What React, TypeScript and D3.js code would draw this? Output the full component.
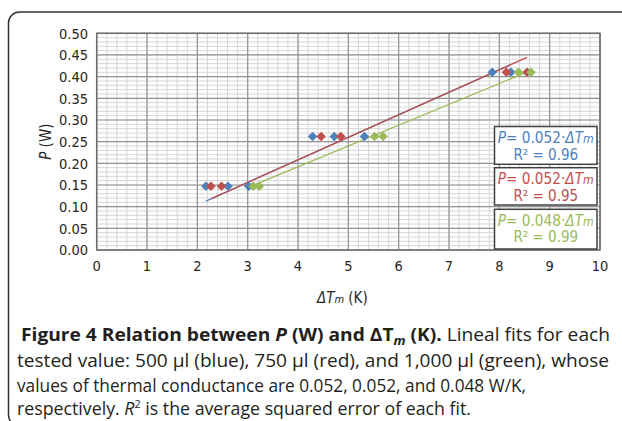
import React from "react";
import * as d3 from "d3";

const xTicks = [0, 1, 2, 3, 4, 5, 6, 7, 8, 9, 10];
const yTicks = [0, 0.05, 0.1, 0.15, 0.2, 0.25, 0.3, 0.35, 0.4, 0.45, 0.5];

const blueX = [2.17, 2.61, 3.02, 4.29, 4.72, 5.32, 7.86, 8.23];
const blueY = [0.147, 0.147, 0.147, 0.262, 0.262, 0.262, 0.41, 0.41];
const redX = [2.27, 2.48, 4.46, 4.85, 8.14, 8.55];
const redY = [0.147, 0.147, 0.262, 0.262, 0.41, 0.41];
const greenX = [3.11, 3.23, 5.52, 5.69, 8.38, 8.63];
const greenY = [0.147, 0.147, 0.262, 0.262, 0.41, 0.41];

const slopes = [0.052, 0.052, 0.048];
const r2 = ["0.96", "0.95", "0.99"];
const colors = ["#4F81BD", "#C0504D", "#9BBB59"];

const chartFont = "'DejaVu Sans Condensed', 'DejaVu Sans', sans-serif";
const capFont = "'Open Sans', 'Noto Sans', sans-serif";

export default function App() {
  const x = d3.scaleLinear().domain([0, 10]).range([96.7, 600]);
  const y = d3.scaleLinear().domain([0, 0.5]).range([250, 33.3]);

  const xMinor = d3.range(0, 10.001, 0.2);
  const yMinor = d3.range(0, 0.5001, 0.01);

  const series = [
    { xs: blueX, ys: blueY },
    { xs: redX, ys: redY },
    { xs: greenX, ys: greenY },
  ];

  const diamond = (cx: number, cy: number, r: number) =>
    `M${cx},${cy - r}L${cx + r},${cy}L${cx},${cy + r}L${cx - r},${cy}Z`;

  const line = d3
    .line<[number, number]>()
    .x((d) => x(d[0]))
    .y((d) => y(d[1]));

  const boxTops = [126.5, 167.7, 209.3];
  const boxH = [37.8, 37.3, 39.7];
  const boxL = 494.5;
  const boxR = 597;

  return (
    <svg
      width={622}
      height={421}
      style={{ position: "absolute", left: 0, top: 0, background: "#fff" }}
    >
      <rect x={0} y={0} width={622} height={421} fill="#fff" />
      {/* outer frame */}
      <rect
        x={8.5}
        y={12}
        width={660}
        height={414}
        rx={11}
        ry={11}
        fill="none"
        stroke="#333"
        strokeWidth={1.5}
      />
      {/* minor grid */}
      <g stroke="#d6d6d6" strokeWidth={1}>
        {xMinor.map((v, i) => (
          <line key={"xm" + i} x1={x(v)} x2={x(v)} y1={y(0)} y2={y(0.5)} />
        ))}
        {yMinor.map((v, i) => (
          <line key={"ym" + i} x1={x(0)} x2={x(10)} y1={y(v)} y2={y(v)} />
        ))}
      </g>
      {/* major grid */}
      <g stroke="#939393" strokeWidth={1.2}>
        {xTicks.map((v) => (
          <line key={"xM" + v} x1={x(v)} x2={x(v)} y1={y(0)} y2={y(0.5)} />
        ))}
        {yTicks.map((v) => (
          <line key={"yM" + v} x1={x(0)} x2={x(10)} y1={y(v)} y2={y(v)} />
        ))}
      </g>
      <rect
        x={x(0)}
        y={y(0.5)}
        width={x(10) - x(0)}
        height={y(0) - y(0.5)}
        fill="none"
        stroke="#6e6e6e"
        strokeWidth={1.5}
      />
      {/* tick labels */}
      <g fontFamily={chartFont} fontSize={14.5} fill="#262626">
        {yTicks.map((v) => (
          <text key={"yl" + v} x={88} y={y(v)} dy="0.36em" textAnchor="end">
            {d3.format(".2f")(v)}
          </text>
        ))}
        {xTicks.map((v) => (
          <text key={"xl" + v} x={x(v)} y={271} textAnchor="middle">
            {v}
          </text>
        ))}
      </g>
      {/* axis titles */}
      <text
        fontFamily={chartFont}
        fontSize={15}
        fill="#262626"
        transform={`translate(51,${(y(0) + y(0.5)) / 2}) rotate(-90)`}
        textAnchor="middle"
      >
        <tspan fontStyle="italic">P</tspan> (W)
      </text>
      <text
        fontFamily={chartFont}
        fontSize={15}
        fill="#262626"
        x={(x(0) + x(10)) / 2 - 6}
        y={303}
        textAnchor="middle"
      >
        <tspan fontStyle="italic">ΔT</tspan>
        <tspan fontStyle="italic" fontSize={11}>m</tspan>
        <tspan> (K)</tspan>
      </text>
      {/* trend lines */}
      {series.map((s, i) => {
        const x0 = d3.min(s.xs) as number;
        const x1 = d3.max(s.xs) as number;
        return (
          <path
            key={"tl" + i}
            d={line([
              [x0, slopes[i] * x0],
              [x1, slopes[i] * x1],
            ]) as string}
            stroke={colors[i]}
            strokeWidth={1.3}
            fill="none"
          />
        );
      })}
      {/* points */}
      {series.map((s, i) => (
        <g key={"pts" + i} fill={colors[i]}>
          {s.xs.map((v, j) => (
            <path key={j} d={diamond(x(v), y(s.ys[j]), 4.8)} />
          ))}
        </g>
      ))}
      {/* equation boxes */}
      {slopes.map((sl, i) => (
        <g key={"box" + i}>
          <rect
            x={boxL}
            y={boxTops[i]}
            width={boxR - boxL}
            height={boxH[i]}
            fill="#fff"
            stroke="#404040"
            strokeWidth={1.5}
          />
          <text
            x={(boxL + boxR) / 2}
            y={boxTops[i] + 16.5}
            textAnchor="middle"
            fontFamily={chartFont}
            fontSize={15}
            fill={colors[i]}
            textLength={96}
            lengthAdjust="spacingAndGlyphs"
          >
            <tspan fontStyle="italic">P</tspan>
            <tspan>= {d3.format(".3f")(sl)}·</tspan>
            <tspan fontStyle="italic">ΔT</tspan>
            <tspan fontStyle="italic" fontSize={12}>m</tspan>
          </text>
          <text
            x={(boxL + boxR) / 2}
            y={boxTops[i] + 33}
            textAnchor="middle"
            fontFamily={chartFont}
            fontSize={15}
            fill={colors[i]}
          >
            R² = {r2[i]}
          </text>
        </g>
      ))}
      {/* caption */}
      <g fontFamily={capFont} fontSize={18} fill="#231f20">
        <text x={21} y={341} textLength={589} lengthAdjust="spacingAndGlyphs">
          <tspan fontWeight="bold">Figure 4 Relation between </tspan>
          <tspan fontWeight="bold" fontStyle="italic">P</tspan>
          <tspan fontWeight="bold"> (W) and ΔT</tspan>
          <tspan fontWeight="bold" fontStyle="italic" fontSize={12.5} dy={4}>m</tspan>
          <tspan fontWeight="bold" dy={-4}> (K).</tspan>
          <tspan> Lineal fits for each</tspan>
        </text>
        <text x={17} y={367} textLength={592} lengthAdjust="spacingAndGlyphs">
          tested value: 500 µl (blue), 750 µl (red), and 1,000 µl (green), whose
        </text>
        <text x={17} y={392} textLength={509} lengthAdjust="spacingAndGlyphs">
          values of thermal conductance are 0.052, 0.052, and 0.048 W/K,
        </text>
        <text x={17} y={415} textLength={454} lengthAdjust="spacingAndGlyphs">
          <tspan>respectively. </tspan>
          <tspan fontStyle="italic">R</tspan>
          <tspan fontSize={11} dy={-7}>2</tspan>
          <tspan dy={7}> is the average squared error of each fit.</tspan>
        </text>
      </g>
    </svg>
  );
}
